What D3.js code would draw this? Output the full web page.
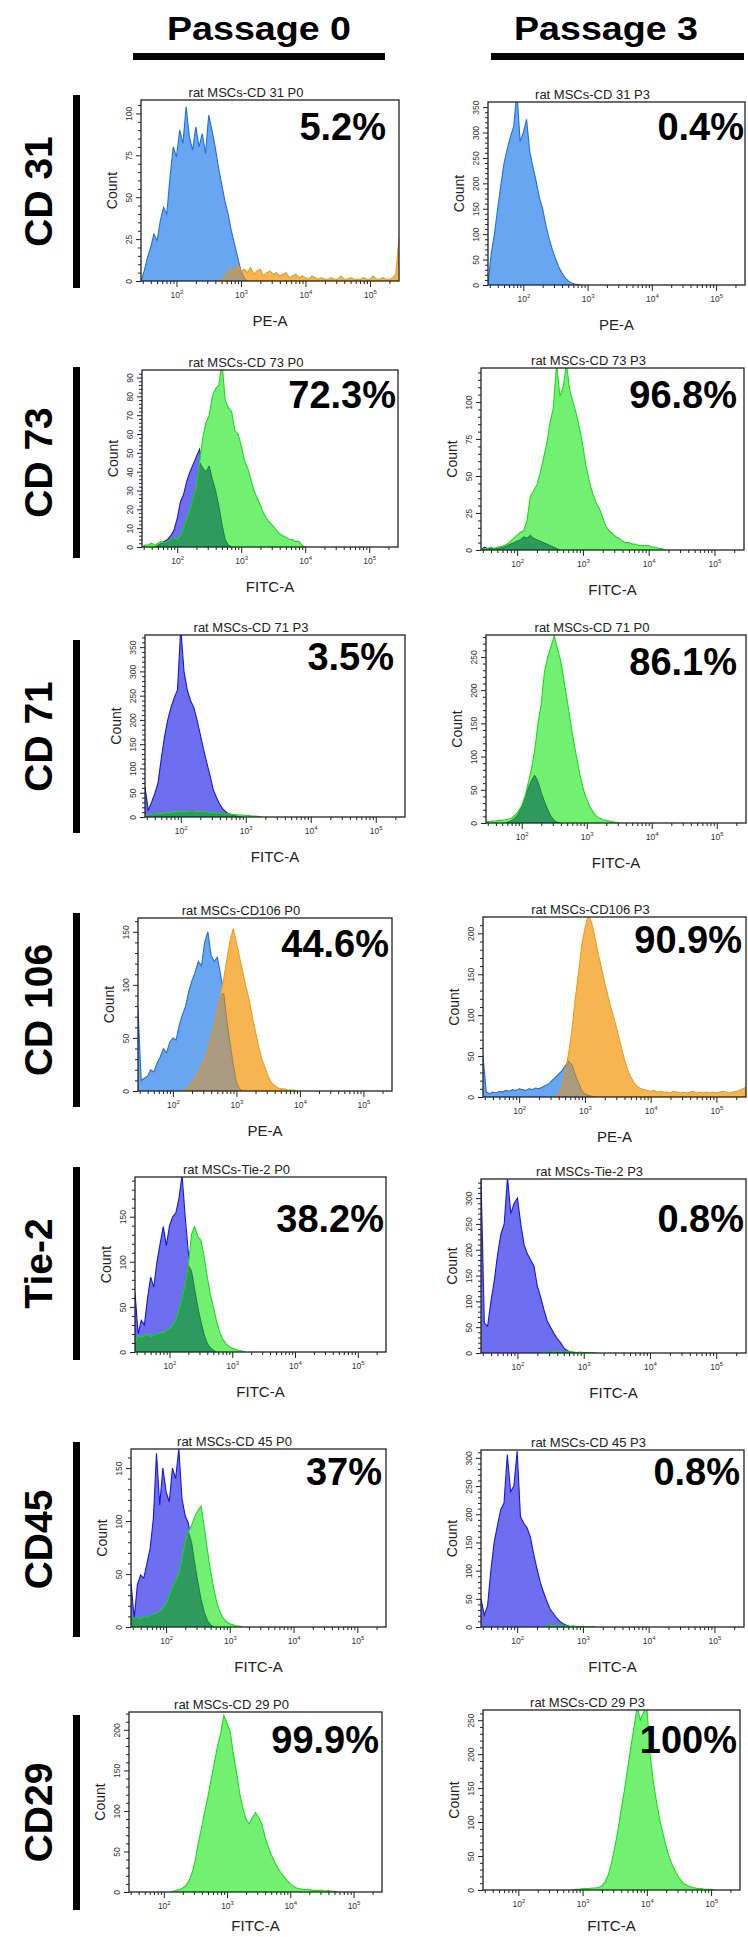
<!DOCTYPE html>
<html>
<head>
<meta charset="utf-8">
<script src="https://cdn.jsdelivr.net/npm/d3@7"></script>
<style>
  body { margin: 0; background: #fff; }
  svg { display: block; }
</style>
</head>
<body>
<div id="fig"></div>
<script>
'use strict';

// ---- chart data ----
var passages = ["Passage 0", "Passage 3"];
var markers = ["CD 31", "CD 73", "CD 71", "CD 106", "Tie-2", "CD45", "CD29"];
var channels = ["PE-A", "FITC-A", "FITC-A", "PE-A", "FITC-A", "FITC-A", "FITC-A"];
var titles = [
    ["rat MSCs-CD 31 P0", "rat MSCs-CD 31 P3"],
    ["rat MSCs-CD 73 P0", "rat MSCs-CD 73 P3"],
    ["rat MSCs-CD 71 P3", "rat MSCs-CD 71 P0"],
    ["rat MSCs-CD106 P0", "rat MSCs-CD106 P3"],
    ["rat MSCs-Tie-2 P0", "rat MSCs-Tie-2 P3"],
    ["rat MSCs-CD 45 P0", "rat MSCs-CD 45 P3"],
    ["rat MSCs-CD 29 P0", "rat MSCs-CD 29 P3"]
];
var percents = [
    ["5.2%", "0.4%"], ["72.3%", "96.8%"], ["3.5%", "86.1%"], ["44.6%", "90.9%"],
    ["38.2%", "0.8%"], ["37%", "0.8%"], ["99.9%", "100%"]
];
var countMax = [[108, 360], [94, 123], [375, 283], [163, 220], [194, 337], [168, 314], [222, 265]];
var countStep = [[25, 50], [10, 25], [50, 50], [50, 50], [50, 50], [50, 50], [50, 50]];
var xTickExps = [2, 3, 4, 5];
var logDomain = [1.45, 5.45];
var binWidth = 0.05;   // histogram bin width, in decades

// histogram counts (one value per bin, first bin given by "start" below)
var cd31P0Iso = [6, 14, 20, 28, 24, 36, 44, 40, 62, 80, 74, 90, 82, 104, 86, 78, 92, 80, 88, 76, 99, 90, 80, 68, 58, 48, 40, 30, 22, 14, 6, 2];
var cd31P0Pos = [1, 3, 5, 8, 4, 10, 6, 7, 5, 8, 4, 6, 7, 3, 5, 6, 4, 5, 3, 4, 5, 2, 3, 4, 2, 3, 2, 1, 3, 2, 1, 2, 1, 1, 2, 1, 1, 3, 1, 1, 2, 1, 1, 1, 2, 1, 1, 3, 1, 1, 2, 1, 1, 2, 4, 26];
var cd31P3Iso = [62, 100, 150, 196, 240, 268, 292, 312, 380, 282, 300, 326, 262, 232, 204, 172, 150, 118, 92, 70, 52, 36, 24, 14, 8, 4, 2, 1];
var cd73P0Iso = [1, 2, 3, 4, 6, 9, 15, 24, 28, 35, 40, 44, 48, 52, 42, 40, 43, 36, 30, 22, 12, 4, 1];
var cd73P0Pos = [1, 1, 2, 1, 2, 3, 2, 3, 4, 5, 4, 6, 10, 15, 20, 26, 32, 45, 58, 66, 70, 80, 84, 86, 98, 78, 74, 72, 62, 60, 54, 46, 42, 36, 30, 26, 22, 18, 15, 13, 11, 9, 7, 6, 5, 4, 4, 3, 3, 1];
var cd73P3Iso = [2, 1, 1, 1, 1, 2, 2, 3, 4, 5, 6, 7, 9, 8, 10, 8, 7, 6, 5, 4, 3, 2, 1];
var cd73P3Pos = [1, 1, 2, 1, 2, 2, 3, 4, 6, 8, 10, 12, 13, 20, 36, 40, 44, 52, 62, 72, 86, 96, 126, 104, 110, 126, 108, 100, 92, 82, 70, 56, 46, 38, 32, 28, 22, 16, 13, 11, 9, 8, 6, 5, 5, 4, 4, 3, 3, 3, 3, 2, 2, 1, 1];
var cd71LeftIso = [62, 14, 30, 48, 70, 120, 165, 200, 226, 246, 262, 390, 300, 262, 240, 226, 200, 170, 140, 112, 86, 56, 40, 26, 16, 10, 6, 4, 2, 1];
var cd71LeftPos = [2, 4, 5, 6, 8, 7, 9, 10, 9, 11, 12, 10, 12, 11, 13, 12, 11, 12, 10, 11, 9, 10, 8, 9, 7, 6, 7, 5, 5, 4, 4, 3, 3, 2, 2, 1];
var cd71RightIso = [2, 4, 8, 14, 25, 38, 52, 64, 72, 62, 46, 32, 20, 10, 4, 1];
var cd71RightPos = [3, 2, 3, 3, 4, 4, 5, 6, 8, 12, 18, 26, 40, 60, 82, 110, 150, 180, 228, 250, 266, 282, 262, 244, 214, 184, 152, 122, 96, 70, 50, 36, 24, 16, 10, 7, 5, 4, 3, 2, 1];
var cd106P0Iso = [78, 10, 12, 14, 20, 18, 26, 32, 40, 36, 46, 50, 48, 62, 72, 80, 94, 104, 112, 122, 118, 140, 150, 128, 122, 126, 110, 92, 66, 45, 25, 8, 2];
var cd106P0Pos = [2, 4, 8, 13, 18, 24, 30, 38, 50, 62, 76, 90, 106, 124, 142, 153, 140, 126, 112, 98, 86, 70, 56, 42, 30, 22, 14, 8, 5, 3, 2, 2, 1, 1, 1];
var cd106P3Iso = [50, 6, 4, 6, 5, 7, 6, 8, 7, 9, 8, 10, 9, 8, 10, 9, 11, 10, 12, 14, 16, 20, 24, 28, 32, 38, 44, 40, 28, 18, 8, 4, 2, 1];
var cd106P3Pos = [1, 3, 12, 30, 52, 80, 118, 150, 184, 206, 222, 214, 196, 176, 158, 140, 124, 108, 94, 78, 62, 46, 33, 24, 17, 13, 10, 9, 8, 7, 8, 6, 7, 6, 6, 5, 7, 6, 5, 6, 5, 6, 7, 5, 6, 5, 6, 5, 6, 5, 6, 7, 6, 5, 6, 7, 8, 10, 12];
var tie2P0Iso = [66, 20, 35, 30, 60, 83, 72, 100, 120, 139, 118, 140, 150, 154, 170, 196, 150, 110, 90, 70, 50, 34, 20, 10, 5, 2];
var tie2P0Pos = [10, 18, 16, 18, 20, 17, 19, 20, 22, 21, 24, 26, 30, 36, 46, 60, 74, 96, 130, 139, 128, 124, 106, 84, 64, 50, 34, 22, 14, 9, 6, 4, 3, 2, 1];
var tie2P3Iso = [340, 58, 52, 100, 140, 190, 230, 250, 340, 270, 290, 300, 250, 210, 192, 180, 168, 130, 108, 84, 62, 50, 38, 28, 20, 10, 5, 2, 1];
var tie2P3Pos = [1, 2, 2, 3, 2, 3, 2, 3, 2, 2, 1, 2, 1, 1, 1, 1];
var cd45P0Iso = [42, 8, 40, 49, 46, 60, 74, 102, 164, 115, 150, 128, 118, 150, 140, 168, 121, 105, 98, 80, 60, 42, 26, 14, 6, 2];
var cd45P0Pos = [12, 8, 9, 8, 10, 9, 11, 12, 13, 15, 18, 22, 30, 38, 44, 50, 64, 80, 90, 96, 104, 110, 114, 94, 72, 52, 36, 22, 14, 8, 5, 3, 2, 1, 1];
var cd45P3Iso = [50, 21, 38, 100, 150, 180, 208, 220, 306, 240, 250, 312, 196, 184, 176, 160, 130, 104, 80, 62, 46, 32, 24, 16, 10, 6, 3, 1];
var cd45P3Pos = [1, 2, 2, 3, 2, 3, 2, 2, 1, 2, 1, 1, 1, 1, 1, 1];
var cd29P0Pos = [1, 2, 3, 5, 8, 14, 24, 40, 62, 80, 100, 118, 140, 160, 180, 196, 218, 208, 198, 170, 148, 122, 104, 90, 84, 92, 98, 92, 84, 68, 56, 46, 38, 30, 24, 19, 14, 10, 7, 5, 4, 3, 3, 3, 2, 2, 2, 2, 1, 2, 1, 1];
var cd29P3Pos = [1, 1, 2, 2, 2, 3, 3, 4, 6, 12, 22, 40, 62, 88, 118, 146, 178, 210, 240, 270, 250, 262, 270, 200, 160, 130, 104, 84, 64, 48, 36, 26, 18, 12, 8, 6, 4, 3, 2, 2, 1, 1, 1];

// which histograms go in which panel ("start" = log10 of the first bin)
var panelSeries = [
    [[{role: "iso", tone: "sky", start: 1.50, counts: cd31P0Iso}, {role: "pos", tone: "orange", start: 2.70, counts: cd31P0Pos}],
     [{role: "iso", tone: "sky", start: 1.50, counts: cd31P3Iso}]],
    [[{role: "iso", tone: "violet", start: 1.70, counts: cd73P0Iso}, {role: "pos", tone: "green", start: 1.50, counts: cd73P0Pos}],
     [{role: "iso", tone: "violet", start: 1.50, counts: cd73P3Iso}, {role: "pos", tone: "green", start: 1.50, counts: cd73P3Pos}]],
    [[{role: "iso", tone: "violet", start: 1.45, counts: cd71LeftIso}, {role: "pos", tone: "green", start: 1.45, counts: cd71LeftPos}],
     [{role: "iso", tone: "violet", start: 1.80, counts: cd71RightIso}, {role: "pos", tone: "green", start: 1.45, counts: cd71RightPos}]],
    [[{role: "iso", tone: "sky", start: 1.45, counts: cd106P0Iso}, {role: "pos", tone: "orange", start: 2.20, counts: cd106P0Pos}],
     [{role: "iso", tone: "sky", start: 1.45, counts: cd106P3Iso}, {role: "pos", tone: "orange", start: 2.55, counts: cd106P3Pos}]],
    [[{role: "iso", tone: "violet", start: 1.45, counts: tie2P0Iso}, {role: "pos", tone: "green", start: 1.45, counts: tie2P0Pos}],
     [{role: "iso", tone: "violet", start: 1.45, counts: tie2P3Iso}, {role: "pos", tone: "green", start: 2.40, counts: tie2P3Pos}]],
    [[{role: "iso", tone: "violet", start: 1.45, counts: cd45P0Iso}, {role: "pos", tone: "green", start: 1.45, counts: cd45P0Pos}],
     [{role: "iso", tone: "violet", start: 1.45, counts: cd45P3Iso}, {role: "pos", tone: "green", start: 2.40, counts: cd45P3Pos}]],
    [[{role: "pos", tone: "green", start: 2.15, counts: cd29P0Pos}],
     [{role: "pos", tone: "green", start: 2.90, counts: cd29P3Pos}]]
];

// ---- layout / styles ----
var width = 748, height = 1937;
var boxes = [   // [left, right, top, bottom]
    [[141, 399, 100, 281], [488, 745, 102, 285]],
    [[142, 398, 370, 547], [481, 744, 368, 550]],
    [[145, 405, 635, 817], [486, 746, 635, 823]],
    [[138, 392, 918, 1091], [483, 746, 917, 1097]],
    [[135, 386, 1177, 1352], [481, 746, 1179, 1353]],
    [[131, 386, 1449, 1627], [481, 744, 1450, 1627]],
    [[129, 382, 1712, 1892], [483, 740, 1710, 1890]]
];
var rowBars = [[95, 288], [367, 558], [640, 833], [913, 1107], [1167, 1360], [1442, 1637], [1715, 1910]];
var pctRight = [[386, 744], [396, 737], [394, 737], [389, 742], [384, 744], [382, 740], [379, 737]];
var pctBase = [[140, 140], [408, 408], [670, 675], [957, 953], [1232, 1232], [1485, 1485], [1753, 1753]];
var headerX = [259, 606];
var headerBars = [[133, 385], [491, 744]];

var tones = {
    sky: {fill: "#68a6f2", line: "#1d6fe6"},
    orange: {fill: "#f7b552", line: "#f09c18"},
    violet: {fill: "#6e6ef0", line: "#1616e4"},
    green: {fill: "#72f072", line: "#18e018"}
};
var overlapTones = {
    skyorange: {fill: "#a99b80", line: "#8a7a5e"},
    violetgreen: {fill: "#2f9a5e", line: "#1d6f45"}
};
var sans = "'Liberation Sans', Arial, Helvetica, sans-serif";

var svg = d3.select("#fig").append("svg")
    .attr("width", width)
    .attr("height", height)
    .style("background", "#fff");

// column headers
passages.forEach(function (p, i) {
    svg.append("text")
        .attr("x", headerX[i]).attr("y", 40)
        .attr("text-anchor", "middle")
        .attr("font-family", sans).attr("font-weight", "bold")
        .attr("font-size", 33)
        .attr("textLength", 184).attr("lengthAdjust", "spacingAndGlyphs")
        .text(p);
    svg.append("rect")
        .attr("x", headerBars[i][0]).attr("y", 53)
        .attr("width", headerBars[i][1] - headerBars[i][0]).attr("height", 7)
        .attr("fill", "#000");
});

// row labels
markers.forEach(function (m, r) {
    var mid = (rowBars[r][0] + rowBars[r][1]) / 2;
    svg.append("text")
        .attr("transform", "translate(52," + mid + ") rotate(-90)")
        .attr("text-anchor", "middle")
        .attr("font-family", sans).attr("font-weight", "bold")
        .attr("font-size", 39)
        .text(m);
    svg.append("rect")
        .attr("x", 73).attr("y", rowBars[r][0])
        .attr("width", 7).attr("height", rowBars[r][1] - rowBars[r][0])
        .attr("fill", "#000");
});

var toPoints = function (s) {
    var pts = s.counts.map(function (c, i) {
        return [Math.pow(10, s.start + i * binWidth), c];
    });
    if (s.start > logDomain[0] + 1e-6) {
        pts.unshift([Math.pow(10, s.start - binWidth), 0]);
    }
    pts.push([Math.pow(10, s.start + s.counts.length * binWidth), 0]);
    return pts;
};

var binMap = function (s) {
    var m = new Map();
    var k0 = Math.round(s.start / binWidth);
    s.counts.forEach(function (c, i) { m.set(k0 + i, c); });
    return m;
};

var overlapPoints = function (a, b) {
    var ma = binMap(a), mb = binMap(b);
    var ka = Math.round(a.start / binWidth), kb = Math.round(b.start / binWidth);
    var lo = Math.max(ka, kb), hi = Math.min(ka + a.counts.length, kb + b.counts.length);
    var pts = [];
    for (var k = lo - 1; k <= hi; k++) {
        var v = Math.min(ma.get(k) || 0, mb.get(k) || 0);
        pts.push([Math.pow(10, k * binWidth), v]);
    }
    return pts;
};

var drawPanel = function (r, c) {
    var box = boxes[r][c];
    var l = box[0], rt = box[1], t = box[2], b = box[3];
    var yMax = countMax[r][c], step = countStep[r][c];

    var x = d3.scaleLog()
        .domain(logDomain.map(function (e) { return Math.pow(10, e); }))
        .range([l, rt]);
    var y = d3.scaleLinear().domain([0, yMax]).range([b, t]);

    var clipId = "clip-" + r + "-" + c;
    svg.append("clipPath").attr("id", clipId)
        .append("rect")
        .attr("x", l).attr("y", t)
        .attr("width", rt - l).attr("height", b - t);

    var plot = svg.append("g").attr("clip-path", "url(#" + clipId + ")");
    var area = d3.area()
        .x(function (d) { return x(d[0]); })
        .y0(b)
        .y1(function (d) { return y(d[1]); });
    var line = d3.line()
        .x(function (d) { return x(d[0]); })
        .y(function (d) { return y(d[1]); });

    var list = panelSeries[r][c];
    var iso = list.filter(function (s) { return s.role === "iso"; })[0];
    var pos = list.filter(function (s) { return s.role === "pos"; })[0];

    if (iso) {
        var isoPts = toPoints(iso);
        plot.append("path").attr("d", area(isoPts)).attr("fill", tones[iso.tone].fill);
        plot.append("path").attr("d", line(isoPts)).attr("fill", "none")
            .attr("stroke", tones[iso.tone].line).attr("stroke-width", 1.1);
    }
    if (pos) {
        var posPts = toPoints(pos);
        plot.append("path").attr("d", area(posPts)).attr("fill", tones[pos.tone].fill);
        if (iso) {
            var ov = overlapPoints(iso, pos);
            var ot = overlapTones[iso.tone + pos.tone];
            plot.append("path").attr("d", area(ov)).attr("fill", ot.fill);
            plot.append("path").attr("d", line(ov)).attr("fill", "none")
                .attr("stroke", ot.line).attr("stroke-width", 0.9);
        }
        plot.append("path").attr("d", line(posPts)).attr("fill", "none")
            .attr("stroke", tones[pos.tone].line).attr("stroke-width", 1.1);
    }

    // axes
    var majors = xTickExps.map(function (e) { return Math.pow(10, e); });
    var minors = [];
    for (var e = 1; e <= 5; e++) {
        for (var m = 2; m <= 9; m++) {
            var lv = Math.log10(m * Math.pow(10, e));
            if (lv > logDomain[0] && lv < logDomain[1]) minors.push(m * Math.pow(10, e));
        }
    }

    svg.append("g")
        .attr("transform", "translate(0," + b + ")")
        .call(d3.axisBottom(x).tickValues(minors).tickSize(3).tickFormat(""))
        .call(function (g) { g.select(".domain").remove(); })
        .selectAll("line").attr("stroke", "#222");

    var gx = svg.append("g")
        .attr("transform", "translate(0," + b + ")")
        .call(d3.axisBottom(x).tickValues(majors).tickSize(6).tickPadding(5)
            .tickFormat(function () { return "10"; }))
        .call(function (g) { g.select(".domain").remove(); });
    gx.selectAll("line").attr("stroke", "#222");
    gx.selectAll("text")
        .attr("font-family", sans).attr("font-size", 8.5).attr("fill", "#333")
        .append("tspan")
        .attr("dy", -4).attr("font-size", 6)
        .text(function (d) { return Math.round(Math.log10(d)); });

    var yMajors = d3.range(0, yMax + 0.001, step);
    var yMinors = d3.range(0, yMax, step / 5).filter(function (v) {
        return Math.abs(v / step - Math.round(v / step)) > 1e-6;
    });

    svg.append("g")
        .attr("transform", "translate(" + l + ",0)")
        .call(d3.axisLeft(y).tickValues(yMinors).tickSize(3).tickFormat(""))
        .call(function (g) { g.select(".domain").remove(); })
        .selectAll("line").attr("stroke", "#222");

    var gy = svg.append("g")
        .attr("transform", "translate(" + l + ",0)")
        .call(d3.axisLeft(y).tickValues(yMajors).tickSize(5))
        .call(function (g) { g.select(".domain").remove(); });
    gy.selectAll("line").attr("stroke", "#222");
    gy.selectAll("text")
        .attr("x", 0).attr("dy", 0)
        .attr("text-anchor", "middle")
        .attr("transform", "translate(-9,0) rotate(-90)")
        .attr("font-family", sans).attr("font-size", 8.5).attr("fill", "#333");

    // frame
    svg.append("rect")
        .attr("x", l).attr("y", t)
        .attr("width", rt - l).attr("height", b - t)
        .attr("fill", "none").attr("stroke", "#222").attr("stroke-width", 1.3);

    // title, axis labels
    svg.append("text")
        .attr("x", (l + rt) / 2 - 24).attr("y", t - 3)
        .attr("text-anchor", "middle")
        .attr("font-family", sans).attr("font-size", 13).attr("fill", "#222")
        .text(titles[r][c]);

    svg.append("text")
        .attr("transform", "translate(" + (l - 24) + "," + ((t + b) / 2) + ") rotate(-90)")
        .attr("text-anchor", "middle")
        .attr("font-family", sans).attr("font-size", 14).attr("fill", "#222")
        .text("Count");

    svg.append("text")
        .attr("x", (l + rt) / 2).attr("y", Math.min(b + 45, height - 6))
        .attr("text-anchor", "middle")
        .attr("font-family", sans).attr("font-size", 15).attr("fill", "#222")
        .text(channels[r]);

    // percentage
    svg.append("text")
        .attr("x", pctRight[r][c]).attr("y", pctBase[r][c])
        .attr("text-anchor", "end")
        .attr("font-family", sans).attr("font-weight", "bold")
        .attr("font-size", 38).attr("fill", "#000")
        .text(percents[r][c]);
};

for (var r = 0; r < markers.length; r++) {
    for (var c = 0; c < 2; c++) {
        drawPanel(r, c);
    }
}
</script>
</body>
</html>
